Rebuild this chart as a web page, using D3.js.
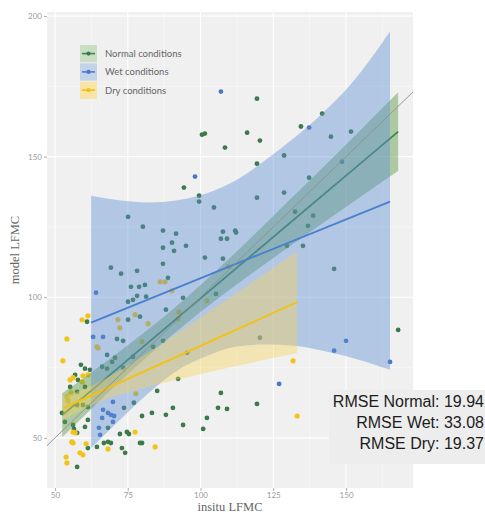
<!DOCTYPE html>
<html>
<head>
<meta charset="utf-8">
<script src="https://cdn.jsdelivr.net/npm/d3@7"></script>
<style>
  html, body { margin: 0; padding: 0; background: #ffffff; }
  svg { display: block; }
</style>
</head>
<body>
<svg id="chart" width="485" height="517"></svg>
<script>
// ---- observations (insitu LFMC, model LFMC) ----
const normalX = [119.4,100.5,101.5,116.0,120.4,108.4,94.3,141.8,134.5,144.8,151.7,128.7,119.4,137.3,99.5,99.5,104.6,119.4,128.7,132.5,138.7,136.9,107.7,111.9,112.2,107.0,109.1,95.0,135.2,129.7,75.1,80.2,87.1,91.6,90.2,87.1,90.9,101.5,87.1,107.7,69.2,72.7,78.2,88.8,145.9,167.9,120.4,119.4,80.9,105.3,81.3,88.1,79.2,87.1,83.7,95.4,92.3,85.1,107.0,90.5,106.0,109.1,79.9,83.3,88.1,102.2,94.0,100.9,79.9,76.1,78.9,94.0,75.1,76.8,78.2,61.0,75.1,71.3,73.4,67.9,70.6,69.6,76.8,73.4,66.2,67.9,58.9,60.3,62.0,56.9,57.9,55.2,60.3,57.6,59.6,57.6,61.3,73.7,77.1,53.4,56.2,56.5,57.6,60.3,61.3,72.3,74.7,75.4,66.8,68.2,69.2,79.2,57.6,61.3,64.4,73.0,74.1,52.4,68.2];
const normalY = [170.6,157.8,158.2,158.5,155.7,153.2,139.0,165.3,160.7,157.1,158.9,150.4,147.5,142.5,136.1,134.0,131.9,135.4,137.2,130.4,129.0,125.4,123.3,123.7,123.0,120.8,120.8,118.3,118.3,118.3,128.6,125.1,123.7,122.6,119.4,117.6,116.5,114.1,111.9,113.7,110.5,108.4,109.4,106.9,110.1,88.4,85.6,62.1,104.4,101.2,100.2,95.6,93.1,84.5,82.4,80.2,71.0,66.7,66.0,60.7,60.7,60.3,57.8,58.9,58.2,57.1,54.6,53.2,48.2,103.7,103.7,99.8,98.4,99.1,100.5,91.3,92.0,85.2,84.5,79.5,78.5,77.0,78.8,74.9,75.3,74.6,76.0,74.6,74.2,72.4,70.6,68.1,68.1,66.4,61.7,61.7,61.0,60.7,62.5,55.7,54.6,53.2,51.8,53.9,56.4,51.4,52.1,51.4,48.2,48.6,48.2,48.2,39.7,46.4,46.8,46.4,44.7,58.9,53.6];

const wetX = [107.0,98.1,137.3,148.6,150.0,145.9,165.1,127.0,64.1,63.1,66.5,69.9,66.5,68.2,69.2,70.3,66.2,69.9,65.1,65.5];
const wetY = [173.1,142.9,160.3,148.2,84.5,81.0,77.0,69.2,101.6,85.9,85.9,62.8,60.0,58.9,58.2,57.8,57.1,55.7,53.6,51.1];

const dryX = [54.1,52.7,61.3,59.3,71.6,72.3,77.5,82.0,64.4,64.8,79.9,56.2,55.2,59.6,61.3,59.3,77.8,55.5,54.5,54.1,55.8,56.2,60.7,58.6,59.6,53.8,54.1,68.2,84.4,56.2,56.9,77.5,90.2,102.2,92.6,92.3,109.5,86.1,87.8,131.8,133.2];
const dryY = [85.2,77.4,93.4,92.0,92.0,89.1,93.8,90.6,82.4,82.0,84.2,71.4,70.6,72.1,72.4,69.9,65.7,66.0,63.2,64.6,48.6,48.2,47.9,44.7,44.0,43.2,41.1,46.1,46.8,52.1,51.8,52.1,102.3,98.8,94.8,92.3,110.9,105.5,105.5,77.4,57.8];

// ---- linear fits with 95% confidence bands ----
const normalFitX = [52.5, 167.9];
const normalFitY = [58.1, 158.9];
const normalBandX  = [52.5, 60, 70, 80, 90, 100, 110, 120, 130, 140, 150, 160, 167.9];
const normalBandLo = [50.3, 57.8, 67.8, 77.3, 86.3, 94.8, 102.7, 110.2, 117.6, 124.9, 132.1, 139.3, 144.9];
const normalBandHi = [65.9, 71.4, 79.0, 86.9, 95.3, 104.4, 113.9, 123.8, 134.0, 144.1, 154.3, 164.7, 172.9];

const wetFitX = [62.4, 165.1];
const wetFitY = [91.0, 134.0];
const wetBandX  = [62.4, 72, 82, 92, 102, 112, 122, 132, 142, 152, 165.1];
const wetBandLo = [46.4, 56.1, 65.8, 74.0, 79.0, 82.4, 83.2, 82.8, 81.0, 78.5, 74.2];
const wetBandHi = [136.1, 134.5, 133.7, 134.5, 136.9, 141.5, 148.5, 156.5, 165.5, 176.2, 194.5];

const dryFitX = [52.7, 133.2];
const dryFitY = [60.5, 98.3];
const dryBandX  = [52.7, 60, 70, 80, 90, 100, 110, 120, 133.2];
const dryBandLo = [56.3, 60.4, 64.6, 67.6, 70.2, 72.6, 75.0, 77.3, 80.2];
const dryBandHi = [64.7, 67.4, 72.6, 79.0, 85.8, 92.8, 99.8, 106.9, 116.4];

// ---- axes ----
const xTicks = [50, 75, 100, 125, 150];
const yTicks = [50, 100, 150, 200];
const xMinor = [62.5, 87.5, 112.5, 137.5, 162.5];
const yMinor = [75, 125, 175];

const seriesNames = ["Normal conditions", "Wet conditions", "Dry conditions"];
const rmseLabels = ["RMSE Normal: 19.94", "RMSE Wet: 33.08", "RMSE Dry: 19.37"];

// ---- styling ----
const colors = {
  normal: { point: "#3b7a49", line: "#3f8455", fill: "#5a9a46", key: "#c9dfc3" },
  wet:    { point: "#4a78c6", line: "#4a7fd0", fill: "#5e8fd4", key: "#c3d3ec" },
  dry:    { point: "#f3c31c", line: "#f6c10a", fill: "#f8d25a", key: "#f7e4a6" }
};

const svg = d3.select("#chart");
const panel = { left: 47, right: 413, top: 12, bottom: 488 };

const x = d3.scaleLinear().domain([47.25, 173]).range([panel.left, panel.right]);
const y = d3.scaleLinear().domain([32.2, 201.4]).range([panel.bottom, panel.top]);

svg.append("defs").append("clipPath").attr("id", "panel-clip")
  .append("rect")
  .attr("x", panel.left).attr("y", panel.top)
  .attr("width", panel.right - panel.left).attr("height", panel.bottom - panel.top);

// panel background
svg.append("rect")
  .attr("x", panel.left).attr("y", panel.top)
  .attr("width", panel.right - panel.left).attr("height", panel.bottom - panel.top)
  .attr("fill", "#f0f0f0");

// grid lines
const grid = svg.append("g");
grid.selectAll("line.ymin").data(yMinor).join("line")
  .attr("x1", panel.left).attr("x2", panel.right)
  .attr("y1", d => y(d)).attr("y2", d => y(d))
  .attr("stroke", "#fafafa").attr("stroke-width", 0.6);
grid.selectAll("line.xmin").data(xMinor).join("line")
  .attr("y1", panel.top).attr("y2", panel.bottom)
  .attr("x1", d => x(d)).attr("x2", d => x(d))
  .attr("stroke", "#fafafa").attr("stroke-width", 0.6);
grid.selectAll("line.ymaj").data(yTicks).join("line")
  .attr("x1", panel.left).attr("x2", panel.right)
  .attr("y1", d => y(d)).attr("y2", d => y(d))
  .attr("stroke", "#ffffff").attr("stroke-width", 1.1);
grid.selectAll("line.xmaj").data(xTicks).join("line")
  .attr("y1", panel.top).attr("y2", panel.bottom)
  .attr("x1", d => x(d)).attr("x2", d => x(d))
  .attr("stroke", "#ffffff").attr("stroke-width", 1.1);

const plot = svg.append("g").attr("clip-path", "url(#panel-clip)");

// points
function drawPoints(xs, ys, c, r) {
  plot.append("g").selectAll("circle").data(xs.map((v, i) => [v, ys[i]])).join("circle")
    .attr("cx", d => x(d[0])).attr("cy", d => y(d[1]))
    .attr("r", r).attr("fill", c);
}
drawPoints(normalX, normalY, colors.normal.point, 2.4);
drawPoints(wetX, wetY, colors.wet.point, 2.4);
drawPoints(dryX, dryY, colors.dry.point, 2.6);

// smooths: ribbon then line, one group at a time
const area = d3.area()
  .x(d => x(d[0])).y0(d => y(d[1])).y1(d => y(d[2]))
  .curve(d3.curveMonotoneX);
const line = d3.line().x(d => x(d[0])).y(d => y(d[1]));

function drawSmooth(bx, lo, hi, fx, fy, c, op) {
  plot.append("path")
    .datum(bx.map((v, i) => [v, lo[i], hi[i]]))
    .attr("d", area).attr("fill", c.fill).attr("fill-opacity", op);
  plot.append("path")
    .datum(fx.map((v, i) => [v, fy[i]]))
    .attr("d", line).attr("fill", "none")
    .attr("stroke", c.line).attr("stroke-width", 1.8);
}
drawSmooth(normalBandX, normalBandLo, normalBandHi, normalFitX, normalFitY, colors.normal, 0.45);
drawSmooth(wetBandX, wetBandLo, wetBandHi, wetFitX, wetFitY, colors.wet, 0.42);
drawSmooth(dryBandX, dryBandLo, dryBandHi, dryFitX, dryFitY, colors.dry, 0.4);

// 1:1 reference line
plot.append("line")
  .attr("x1", x(x.domain()[0])).attr("y1", y(x.domain()[0]))
  .attr("x2", x(x.domain()[1])).attr("y2", y(x.domain()[1]))
  .attr("stroke", "#8f8f8f").attr("stroke-width", 0.9);

// axes
const xAxis = svg.append("g")
  .attr("transform", `translate(0,${panel.bottom})`)
  .call(d3.axisBottom(x).tickValues(xTicks).tickSize(3).tickPadding(1));
const yAxis = svg.append("g")
  .attr("transform", `translate(${panel.left},0)`)
  .call(d3.axisLeft(y).tickValues(yTicks).tickSize(3).tickPadding(2));
[xAxis, yAxis].forEach(g => {
  g.select(".domain").remove();
  g.selectAll(".tick line").attr("stroke", "#b0b0b0");
  g.selectAll(".tick text")
    .attr("fill", "#9a9a9a")
    .style("font-family", "Lato, 'Open Sans', sans-serif")
    .style("font-size", "8px");
});

// axis titles
svg.append("text")
  .attr("x", (panel.left + panel.right) / 2).attr("y", 511)
  .attr("text-anchor", "middle")
  .style("font-family", "'Liberation Serif', 'DejaVu Serif', serif")
  .style("font-size", "12.5px").attr("fill", "#666")
  .text("insitu LFMC");
svg.append("text")
  .attr("transform", `translate(19,${(panel.top + panel.bottom) / 2}) rotate(-90)`)
  .attr("text-anchor", "middle")
  .style("font-family", "'Liberation Serif', 'DejaVu Serif', serif")
  .style("font-size", "12.5px").attr("fill", "#666")
  .text("model LFMC");

// legend
const legend = svg.append("g").attr("transform", "translate(80,45)");
const keyColors = [colors.normal, colors.wet, colors.dry];
seriesNames.forEach((name, i) => {
  const g = legend.append("g").attr("transform", `translate(0,${i * 18.3})`);
  g.append("rect").attr("width", 17).attr("height", 17.3).attr("fill", keyColors[i].key);
  g.append("line").attr("x1", 2).attr("x2", 15).attr("y1", 8.6).attr("y2", 8.6)
    .attr("stroke", keyColors[i].line).attr("stroke-width", 1.6);
  g.append("circle").attr("cx", 8.5).attr("cy", 8.6).attr("r", 2.1).attr("fill", keyColors[i].point);
  g.append("text").attr("x", 25).attr("y", 12)
    .style("font-family", "Lato, 'Open Sans', sans-serif")
    .style("font-size", "9.5px").attr("fill", "#666")
    .text(name);
});

// RMSE annotation
const box = svg.append("g");
box.append("rect")
  .attr("x", 329).attr("y", 390).attr("width", 160).attr("height", 74)
  .attr("fill", "#ececec").attr("fill-opacity", 0.95);
box.selectAll("text").data(rmseLabels).join("text")
  .attr("x", 484).attr("y", (d, i) => 407 + i * 21)
  .attr("text-anchor", "end")
  .style("font-family", "'Liberation Sans', Arial, sans-serif")
  .style("font-size", "16px").attr("fill", "#1c1c1c")
  .text(d => d);
</script>
</body>
</html>
